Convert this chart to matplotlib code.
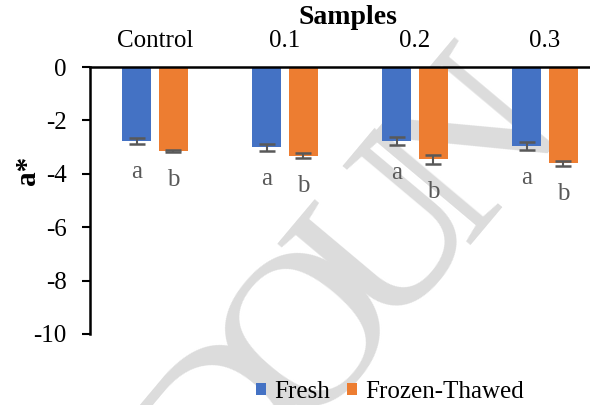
import numpy as np
import matplotlib.pyplot as plt

plt.rcParams['font.family'] = ['Liberation Serif', 'DejaVu Serif']

# sample groups and a* values
samples = ['Control', '0.1', '0.2', '0.3']
fresh = [-2.77, -3.01, -2.77, -2.96]
fresh_err = [0.10, 0.12, 0.15, 0.15]
thawed = [-3.15, -3.32, -3.46, -3.61]
thawed_err = [0.03, 0.09, 0.17, 0.09]
fresh_letters = ['a', 'a', 'a', 'a']
thawed_letters = ['b', 'b', 'b', 'b']
yticks = [0, -2, -4, -6, -8, -10]

blue = '#4472C4'
orange = '#ED7D31'
grey = '#595959'

fig = plt.figure(figsize=(5.9, 4.05), dpi=100)

# watermark behind the chart, letter by letter along a diagonal
mark = 'DOUN'
x0, y0 = 235, 428   # pixel centre of the first letter
dx, dy = 80, -93    # pixel step between letters
for k, ch in enumerate(mark):
    fig.text((x0 + k * dx) / 590, 1 - (y0 + k * dy) / 405, ch, fontsize=160,
             color='#dcdcdc', rotation=50, ha='center', va='center',
             rotation_mode='anchor', zorder=-1)

# plot area runs past the right edge of the picture, as in the reference
ax = fig.add_axes([90 / 590, 1 - 334 / 405, 520 / 590, 267 / 405])
ax.patch.set_alpha(0)

x = np.arange(len(samples))
w = 0.225
off = 0.14
ax.bar(x - off, fresh, w, color=blue, label='Fresh', zorder=2)
ax.bar(x + off, thawed, w, color=orange, label='Frozen-Thawed', zorder=2)
ax.errorbar(x - off, fresh, yerr=fresh_err, fmt='none', ecolor=grey,
            elinewidth=1.5, capsize=5.5, capthick=1.8, zorder=3)
ax.errorbar(x + off, thawed, yerr=thawed_err, fmt='none', ecolor=grey,
            elinewidth=1.5, capsize=5.5, capthick=1.8, zorder=3)

# significance letters under each bar
for i in range(len(samples)):
    ax.text(x[i] - off, fresh[i] - fresh_err[i] - 1.05, fresh_letters[i],
            ha='center', va='center', fontsize=18, color=grey)
    ax.text(x[i] + off, thawed[i] - thawed_err[i] - 1.05, thawed_letters[i],
            ha='center', va='center', fontsize=18, color=grey)

ax.set_xlim(-0.5, len(samples) - 0.5)
ax.set_ylim(-10, 0)
ax.set_yticks(yticks)
ax.set_yticklabels([str(t) for t in yticks], fontsize=18)
ax.xaxis.tick_top()
ax.set_xticks(x)
ax.set_xticklabels(samples, fontsize=18)
ax.tick_params(axis='x', length=0, pad=11)
ax.tick_params(axis='y', length=6, width=1.5, direction='out', pad=11)

for s in ['right', 'bottom']:
    ax.spines[s].set_visible(False)
for s in ['left', 'top']:
    ax.spines[s].set_linewidth(1.8)

fig.text(348 / 590, 1 - 18 / 405, 'Samples', fontsize=20, fontweight='bold',
         ha='center', va='center')
fig.text(27 / 590, 1 - 170 / 405, 'a*', fontsize=21, fontweight='bold',
         rotation=90, ha='center', va='center')

fig.legend(loc='center', bbox_to_anchor=(390 / 590, 1 - 392 / 405), ncol=2,
           frameon=False, fontsize=18, handlelength=0.4, handleheight=0.4,
           handletextpad=0.32, columnspacing=0.7, borderpad=0)

fig.savefig('out.png', dpi=100)
